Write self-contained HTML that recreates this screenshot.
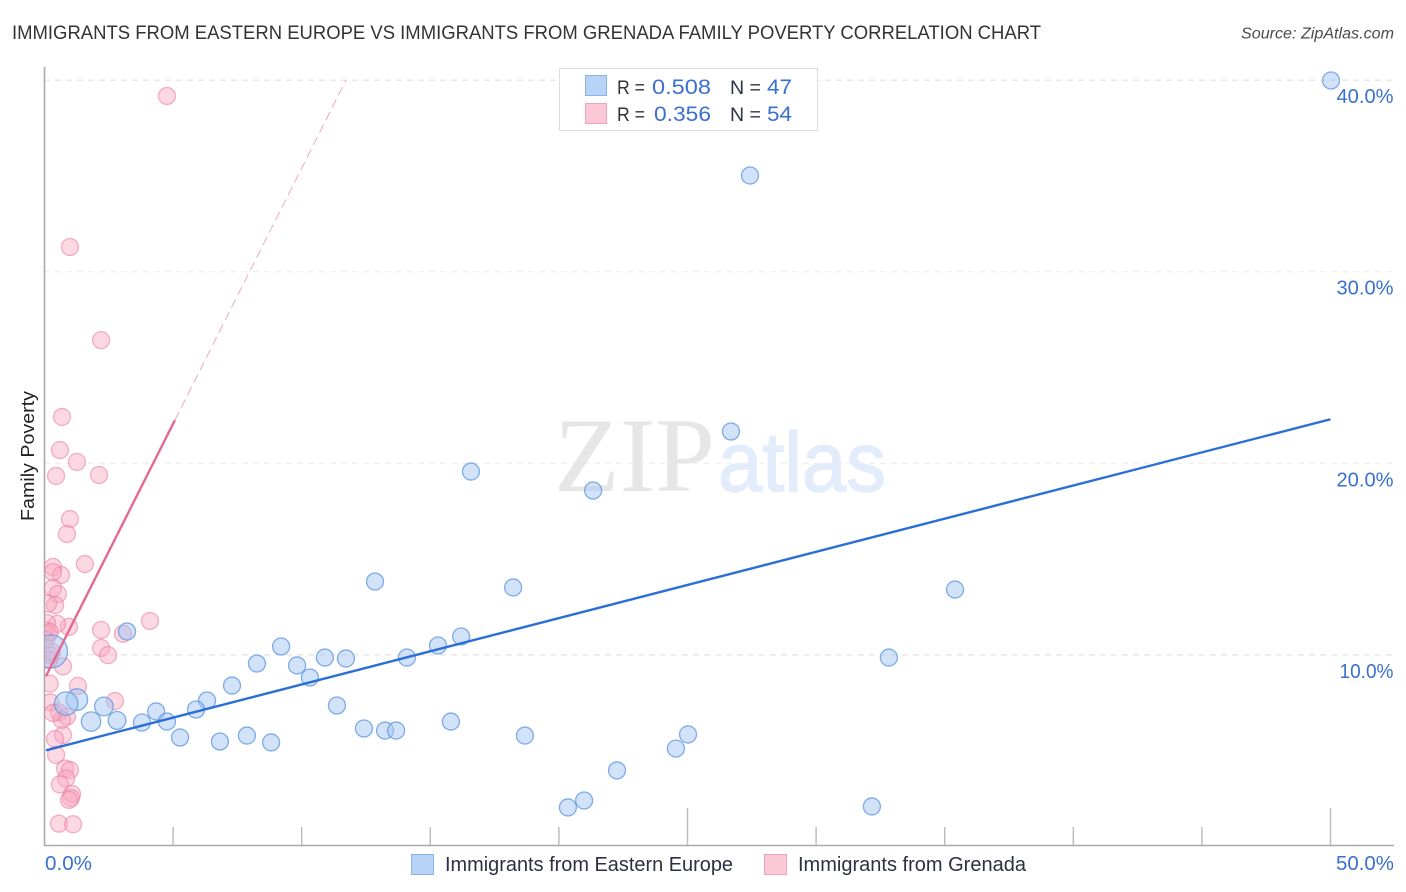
<!DOCTYPE html>
<html lang="en">
<head>
<meta charset="utf-8">
<title>Immigrants from Eastern Europe vs Immigrants from Grenada Family Poverty Correlation Chart</title>
<style>
  html, body { margin: 0; padding: 0; background: #fff; }
  svg { display: block; font-family: "Liberation Sans", sans-serif; }
</style>
</head>
<body>
<svg id="chart" xmlns="http://www.w3.org/2000/svg" width="1406" height="892" viewBox="0 0 1406 892">
  <defs>
    <clipPath id="plot-clip"><rect x="45" y="60" width="1360" height="786"/></clipPath>
  </defs>
  <rect x="0" y="0" width="1406" height="892" fill="#ffffff"/>
  <text x="12" y="39" font-size="19.5" fill="#333333" textLength="1029" lengthAdjust="spacingAndGlyphs">IMMIGRANTS FROM EASTERN EUROPE VS IMMIGRANTS FROM GRENADA FAMILY POVERTY CORRELATION CHART</text>
  <text x="1241" y="38.5" font-size="15.5" font-style="italic" fill="#4a4a4a" textLength="153" lengthAdjust="spacingAndGlyphs">Source: ZipAtlas.com</text>

  <g id="grid"></g>

  <g>
    <text x="554" y="491" font-family="'Liberation Serif', serif" font-size="106" fill="#e6e6e6" textLength="161" lengthAdjust="spacingAndGlyphs">ZIP</text>
    <text x="718" y="491" font-size="84" fill="#e3ecfa" stroke="#e3ecfa" stroke-width="1.5" textLength="168" lengthAdjust="spacingAndGlyphs">atlas</text>
  </g>

  <g id="axes"></g>
  <g clip-path="url(#plot-clip)">
    <g id="pink-points"></g>
    <g id="blue-points"></g>
  </g>
  <g id="trend-lines"></g>

  <g>
    <rect x="559.5" y="68.5" width="258" height="62" fill="#ffffff" stroke="#dddddd" stroke-width="1"/>
    <rect x="585.5" y="75.5" width="21" height="20" fill="#b7d3f7" stroke="#8ab4e8" stroke-width="1"/>
    <rect x="585.5" y="103.5" width="21" height="20" fill="#fcc8d8" stroke="#f0a3bc" stroke-width="1"/>
    <text x="617" y="94" font-size="19" fill="#333333" textLength="28" lengthAdjust="spacingAndGlyphs">R =</text>
    <text x="652" y="94" font-size="21" fill="#3a70d0" textLength="59" lengthAdjust="spacingAndGlyphs">0.508</text>
    <text x="730" y="94" font-size="19" fill="#2c3345" textLength="31" lengthAdjust="spacingAndGlyphs">N =</text>
    <text x="767" y="94" font-size="21" fill="#3a70d0" textLength="25" lengthAdjust="spacingAndGlyphs">47</text>
    <text x="617" y="121" font-size="19" fill="#333333" textLength="28" lengthAdjust="spacingAndGlyphs">R =</text>
    <text x="654" y="121" font-size="21" fill="#3a70d0" textLength="57" lengthAdjust="spacingAndGlyphs">0.356</text>
    <text x="730" y="121" font-size="19" fill="#2c3345" textLength="31" lengthAdjust="spacingAndGlyphs">N =</text>
    <text x="767" y="121" font-size="21" fill="#3a70d0" textLength="25" lengthAdjust="spacingAndGlyphs">54</text>
  </g>

  <text transform="translate(34,456) rotate(-90)" text-anchor="middle" font-size="18.5" fill="#222222" textLength="130" lengthAdjust="spacingAndGlyphs">Family Poverty</text>

  <g>
    <g>
      <rect x="411.5" y="854.5" width="22" height="20" fill="#b7d3f7" stroke="#8ab4e8" stroke-width="1"/>
      <text x="445" y="871" font-size="20" fill="#2c3040" textLength="288" lengthAdjust="spacingAndGlyphs">Immigrants from Eastern Europe</text>
    </g>
    <g>
      <rect x="764.5" y="854.5" width="22" height="20" fill="#fcc8d8" stroke="#f0a3bc" stroke-width="1"/>
      <text x="798" y="871" font-size="20" fill="#2c3040" textLength="228" lengthAdjust="spacingAndGlyphs">Immigrants from Grenada</text>
    </g>
  </g>
</svg>

<script>
// Eastern Europe series: x = immigrant share (%), y = family poverty (%)
const blueX = [50.02,27.43,26.69,16.58,21.33,12.85,18.22,35.4,3.21,16.2,15.3,9.2,14.09,32.83,10.9,11.72,8.26,9.82,10.32,0.25,7.29,1.26,0.84,6.32,2.31,11.37,4.34,5.89,1.81,2.82,3.79,4.76,15.8,12.42,13.24,13.67,5.27,7.87,6.82,8.81,18.68,25.02,24.55,22.26,20.98,20.35,32.17];
const blueY = [39.98,35.02,21.66,19.57,18.58,13.83,13.52,13.41,11.22,10.96,10.49,10.44,9.86,9.86,9.86,9.81,9.55,9.45,8.82,10.18,8.4,7.67,7.46,7.62,7.31,7.36,7.05,7.15,6.52,6.58,6.47,6.52,6.52,6.16,6.05,6.05,5.69,5.79,5.48,5.43,5.79,5.85,5.11,3.97,2.4,2.04,2.09];
// Relative population weight of each Eastern Europe point
const blueWeight = [1,1,1,1,1,1,1,1,1,1,1,1,1,1,1,1,1,1,1,3.8,1,1.6,1.9,1,1.2,1,1,1,1.3,1.1,1,1,1,1,1,1,1,1,1,1,1,1,1,1,1,1,1];
// Grenada series
const pinkX = [4.76,0.99,2.2,0.68,0.6,1.26,2.12,0.45,0.99,0.87,1.57,0.33,0.64,0.33,0.33,0.52,0.41,0.14,4.1,2.2,3.05,0.95,0.49,0.1,0.02,2.2,2.47,0.21,0.72,0.17,1.3,2.74,0.2,0.23,0.56,0.87,0.68,0.33,0.72,0.41,0.45,0.8,0.99,0.84,0.6,1.07,1.03,0.95,0.56,1.11,0.14,0.06,0.21,0.29];
const pinkY = [39.17,31.29,26.43,22.42,20.69,20.07,19.39,19.34,17.09,16.31,14.74,14.59,14.17,14.32,13.49,13.18,12.6,12.68,11.77,11.3,11.1,11.46,11.62,11.66,11.3,10.36,9.99,9.99,9.4,9.73,8.38,7.59,8.5,7.52,7.0,6.78,6.6,6.97,5.82,5.61,4.78,4.07,3.99,3.55,3.24,2.74,2.53,2.43,1.19,1.16,11.09,10.78,11.2,10.15];
// Trend-line endpoints [x, y]
const blueTrendX = [0.06,50];
const blueTrendY = [5.02,22.3];
const pinkSolidX = [0.06,5.07];
const pinkSolidY = [8.9,22.25];
const pinkDashX = [5.07,11.72];
const pinkDashY = [22.25,40];
// Axis ticks
const xTicks = [0,5,10,15,20,25,30,35,40,45,50];
const xMajorTicks = [25,50];
const xTickLabels = [[0,"0.0%"],[50,"50.0%"]];
const yGridValues = [10,20,30,40];
const yTickLabels = ["10.0%","20.0%","30.0%","40.0%"];

const NS = "http://www.w3.org/2000/svg";
const sx = v => 44.5 + v * 25.72;
const sy = v => 846.5 - v * 19.16;
function mk(tag, parent, attrs) {
  const el = document.createElementNS(NS, tag);
  for (const k in attrs) el.setAttribute(k, attrs[k]);
  document.getElementById(parent).appendChild(el);
  return el;
}

yGridValues.forEach((v, i) => {
  const g = mk("line", "grid", {x1: 44, x2: 1393, y1: sy(v), y2: sy(v), stroke: (v === 20 || v === 30) ? "#ececec" : "#dcdcdc", "stroke-width": 1, "stroke-dasharray": "6 5"});
  
  
  const t = mk("text", "axes", {x: 1393.5, y: sy(v) + 23, "text-anchor": "end", "font-size": 20, fill: "#3a70d0", textLength: v === 10 ? 54 : 57, lengthAdjust: "spacingAndGlyphs"});
  t.textContent = yTickLabels[i];
  
  
});

const yAxis = mk("line", "axes", {x1: 44.5, x2: 44.5, y1: 67, y2: 846, stroke: "#aaaaaa", "stroke-width": 1.6});


const xAxis = mk("line", "axes", {x1: 44, x2: 1394, y1: 845.5, y2: 845.5, stroke: "#aaaaaa", "stroke-width": 1.4});



xTicks.forEach(v => {
  if (v === 0) return;
  const top = xMajorTicks.includes(v) ? 808 : 827;
  const tk = mk("line", "axes", {x1: sx(v), x2: sx(v), y1: top, y2: 845, stroke: "#bbbbbb", "stroke-width": 1.4});
  
  
});

xTickLabels.forEach(pair => {
  const first = pair[0] === 0;
  const t = mk("text", "axes", {x: first ? 45 : 1394, y: 870, "text-anchor": first ? "start" : "end", "font-size": 20, fill: "#3a70d0", textLength: first ? 47 : 58, lengthAdjust: "spacingAndGlyphs"});
  t.textContent = pair[1];
  
  
});

pinkX.forEach((v, i) => {
  const c = mk("circle", "pink-points", {cx: sx(v), cy: sy(pinkY[i]), r: 8.5, fill: "#f9a9c2", "fill-opacity": 0.45, stroke: "#ec7fa3", "stroke-opacity": 0.6, "stroke-width": 1.3});
  
  
});

blueX.forEach((v, i) => {
  const c = mk("circle", "blue-points", {cx: sx(v), cy: sy(blueY[i]), r: 8.5 * Math.sqrt(blueWeight[i]), fill: "#a3c6f3", "fill-opacity": 0.5, stroke: "#5f97e2", "stroke-opacity": 0.78, "stroke-width": 1.3});
  
  
});

const blueLine = mk("line", "trend-lines", {x1: sx(blueTrendX[0]), y1: sy(blueTrendY[0]), x2: sx(blueTrendX[1]), y2: sy(blueTrendY[1]), stroke: "#2a6fd6", "stroke-width": 2.4});


const pinkLine = mk("line", "trend-lines", {x1: sx(pinkSolidX[0]), y1: sy(pinkSolidY[0]), x2: sx(pinkSolidX[1]), y2: sy(pinkSolidY[1]), stroke: "#e4698f", "stroke-width": 2.4});


const pinkDash = mk("line", "trend-lines", {x1: sx(pinkDashX[0]), y1: sy(pinkDashY[0]), x2: sx(pinkDashX[1]), y2: sy(pinkDashY[1]), stroke: "#efa9c0", "stroke-width": 1, "stroke-dasharray": "9 5"});


</script>
</body>
</html>
